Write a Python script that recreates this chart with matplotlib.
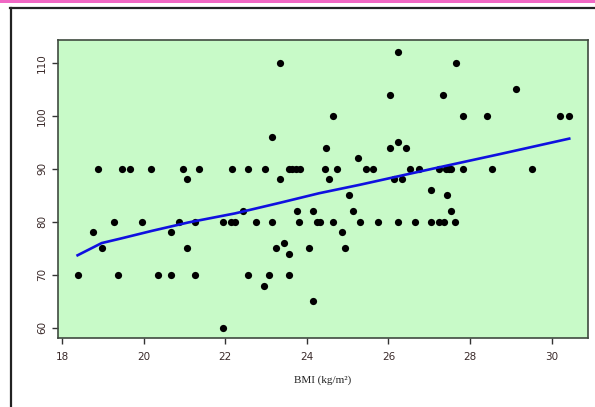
import matplotlib
matplotlib.use("Agg")
import matplotlib.pyplot as plt
from matplotlib.lines import Line2D
from matplotlib.patches import Rectangle

# ---- data ----
bmi = [
    26.23, 23.34, 27.65, 29.13, 26.04, 27.34,
    24.64, 27.82, 28.42, 30.21, 30.43, 23.15, 26.23,
    24.46, 26.04, 26.44, 25.25,
    18.87, 19.48, 19.67, 20.18, 20.96, 21.36, 22.16, 22.55, 22.97, 23.55,
    23.64, 23.74, 23.84, 24.45, 24.73, 25.44, 25.63, 26.53, 26.74, 27.23,
    27.41, 27.48, 27.53, 27.82, 28.53, 29.52,
    21.07, 23.35, 24.55, 26.14, 26.33,
    27.04, 25.03, 27.43,
    22.44, 23.75, 24.14, 25.14, 27.53,
    19.28, 19.97, 20.87, 21.25, 21.95, 22.13, 22.24, 22.75, 23.15, 23.80,
    24.26, 24.32, 24.65, 25.29, 25.74, 26.23, 26.64, 27.04, 27.23, 27.35, 27.64,
    18.77, 20.66, 24.86,
    23.44,
    18.98, 21.07, 23.25, 24.04, 24.94,
    23.55,
    18.38, 19.37, 20.36, 20.66, 21.26, 22.55, 23.06, 23.55,
    22.96, 24.14, 21.95,
]
value = [
    112, 110, 110, 105, 104, 104,
    100, 100, 100, 100, 100, 96, 95,
    94, 94, 94, 92,
    90, 90, 90, 90, 90, 90, 90, 90, 90, 90,
    90, 90, 90, 90, 90, 90, 90, 90, 90, 90,
    90, 90, 90, 90, 90, 90,
    88, 88, 88, 88, 88,
    86, 85, 85,
    82, 82, 82, 82, 82,
    80, 80, 80, 80, 80, 80, 80, 80, 80, 80,
    80, 80, 80, 80, 80, 80, 80, 80, 80, 80, 80,
    78, 78, 78,
    76,
    75, 75, 75, 75, 75,
    74,
    70, 70, 70, 70, 70, 70, 70, 70,
    68, 65, 60,
]

# smoothed (loess) curve
curve_x = [18.38, 18.97, 19.46, 20.2, 21.1, 22.24, 23.34, 24.3, 25.3, 26.77, 28.74, 30.43]
curve_y = [73.7, 76.0, 76.9, 78.3, 79.9, 81.6, 83.6, 85.4, 87.0, 89.5, 92.8, 95.7]

xticks = [18, 20, 22, 24, 26, 28, 30]
yticks = [60, 70, 80, 90, 100, 110]
xlabel = "BMI (kg/m²)"

W, H = 595, 407
fig = plt.figure(figsize=(W / 100, H / 100), dpi=100)

# decorations: pink band and outer frame
fig.patches.append(Rectangle((0, 1 - 3 / H), 1, 3 / H, transform=fig.transFigure,
                             facecolor="#f068c4", edgecolor="none"))
fig.lines.append(Line2D([11 / W, 11 / W], [0, 1 - 8 / H], transform=fig.transFigure,
                        color="#222222", lw=1.6))
fig.lines.append(Line2D([10 / W, 1], [1 - 8 / H, 1 - 8 / H], transform=fig.transFigure,
                        color="#222222", lw=1.6))

ax = fig.add_axes([58 / W, 69 / H, 530 / W, 298 / H])
ax.set_facecolor("#c8fac8")
ax.scatter(bmi, value, s=27, color="black", zorder=3, linewidths=0)
ax.plot(curve_x, curve_y, color="#1010e0", lw=1.9, zorder=4)

ax.set_xlim(17.9, 30.89)
ax.set_ylim(58.1, 114.3)
ax.set_xticks(xticks)
ax.set_yticks(yticks)
ax.tick_params(axis="both", direction="out", length=4, width=1, color="#333333",
               labelsize=7.5, labelcolor="#3a2a2a")
ax.tick_params(axis="x", pad=6)
ax.tick_params(axis="y", pad=4)
for lab in ax.get_yticklabels():
    lab.set_rotation(90)
    lab.set_va("center")
for sp in ax.spines.values():
    sp.set_color("#404a40")
    sp.set_linewidth(1.2)

ax.set_xlabel(xlabel, fontfamily="Liberation Serif", fontsize=8, color="#222222", labelpad=10)

fig.savefig("out.png", dpi=100)
